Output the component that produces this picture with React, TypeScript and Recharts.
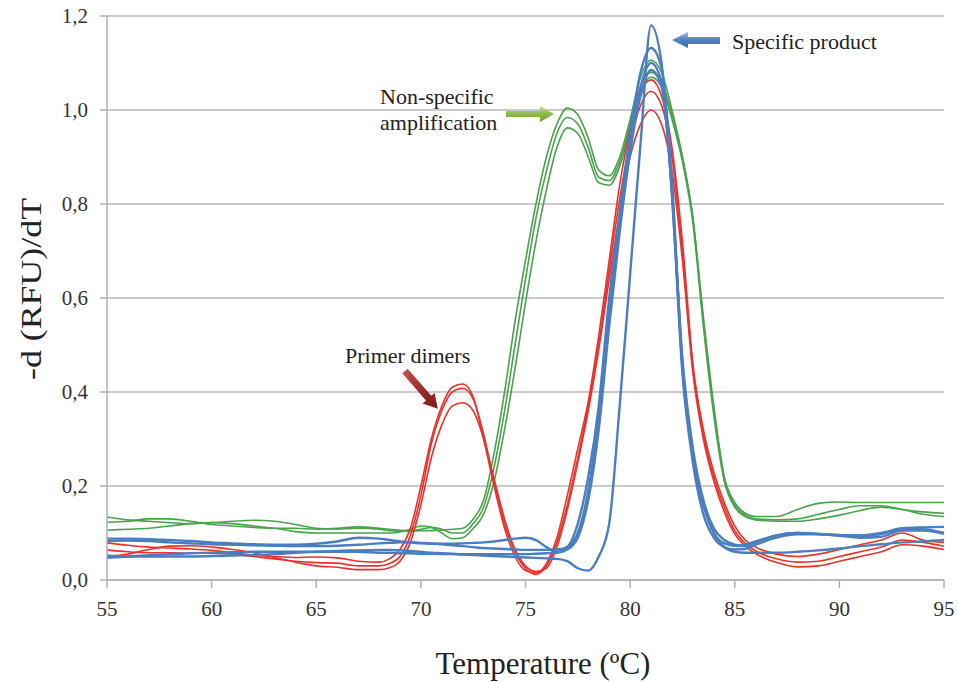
import { LineChart, Line, XAxis, YAxis, CartesianGrid, Label } from 'recharts';

// temperature grid (ºC)
const temps = [
  55, 56, 57, 58, 59, 60, 61, 62, 63, 64, 65, 66, 67, 68, 68.5, 69, 69.5, 70, 70.5, 71, 71.5, 72,
  72.5, 73, 73.5, 74, 74.5, 75, 75.5, 76, 76.5, 77, 77.5, 78, 78.5, 79, 79.5, 80, 80.5, 81, 81.5,
  82, 82.5, 83, 83.5, 84, 84.5, 85, 85.5, 86, 87, 88, 89, 90, 91, 92, 93, 94, 95,
];

// non-specific amplification (green)
const green1 = [
  0.134, 0.128, 0.125, 0.122, 0.12, 0.122, 0.125, 0.127, 0.125, 0.118, 0.11, 0.108, 0.11, 0.108,
  0.105, 0.104, 0.104, 0.105, 0.105, 0.106, 0.108, 0.11, 0.13, 0.17, 0.27, 0.4, 0.55, 0.68, 0.8,
  0.9, 0.97, 1.004, 0.99, 0.94, 0.872, 0.86, 0.9, 0.98, 1.07, 1.106, 1.08, 1.0, 0.9, 0.77, 0.56,
  0.37, 0.22, 0.165, 0.142, 0.135, 0.135, 0.15, 0.163, 0.166, 0.165, 0.165, 0.165, 0.165, 0.165,
];
const green2 = [
  0.123, 0.125, 0.13, 0.13, 0.125, 0.118, 0.115, 0.112, 0.11, 0.11, 0.108, 0.11, 0.113, 0.11,
  0.108, 0.106, 0.105, 0.108, 0.112, 0.108, 0.1, 0.1, 0.12, 0.155, 0.24, 0.36, 0.5, 0.64, 0.77,
  0.87, 0.95, 0.984, 0.97, 0.92, 0.857, 0.85, 0.89, 0.97, 1.05, 1.08, 1.06, 0.99, 0.9, 0.77, 0.55,
  0.36, 0.215, 0.16, 0.138, 0.13, 0.128, 0.13, 0.14, 0.15, 0.158, 0.158, 0.15, 0.145, 0.142,
];
const green3 = [
  0.106, 0.108, 0.11, 0.115, 0.12, 0.122, 0.12, 0.115, 0.11, 0.103, 0.1, 0.1, 0.1, 0.1, 0.1,
  0.102, 0.108, 0.115, 0.112, 0.1, 0.088, 0.09, 0.11, 0.14, 0.21, 0.32, 0.45, 0.59, 0.72, 0.83,
  0.92, 0.962, 0.95, 0.9, 0.845, 0.84, 0.88, 0.96, 1.04, 1.07, 1.05, 0.98, 0.89, 0.76, 0.54, 0.35,
  0.21, 0.155, 0.135, 0.128, 0.125, 0.125, 0.13, 0.138, 0.148, 0.155, 0.15, 0.14, 0.135,
];

// primer dimers + product (red)
const red1 = [
  0.079, 0.074, 0.07, 0.068, 0.066, 0.063, 0.058, 0.053, 0.05, 0.048, 0.049, 0.047, 0.04, 0.038,
  0.045, 0.065, 0.11, 0.2, 0.3, 0.37, 0.41, 0.417, 0.39, 0.3, 0.2, 0.11, 0.05, 0.02, 0.015, 0.035,
  0.09, 0.18, 0.28, 0.38, 0.52, 0.68, 0.84, 0.96, 1.04, 1.064, 1.03, 0.92, 0.72, 0.46, 0.32,
  0.23, 0.165, 0.115, 0.085, 0.07, 0.055, 0.05, 0.055, 0.065, 0.075, 0.085, 0.1, 0.085, 0.08,
];
const red2 = [
  0.064, 0.06, 0.058, 0.058, 0.057, 0.057, 0.055, 0.05, 0.045, 0.04, 0.037, 0.036, 0.03, 0.03,
  0.035, 0.05, 0.095, 0.18, 0.29, 0.36, 0.4, 0.408, 0.385, 0.31, 0.21, 0.12, 0.06, 0.025, 0.012,
  0.03, 0.08, 0.16, 0.26, 0.37, 0.5, 0.66, 0.81, 0.93, 1.01, 1.04, 1.01, 0.9, 0.7, 0.45, 0.31,
  0.22, 0.155, 0.105, 0.078, 0.062, 0.045, 0.038, 0.04, 0.05, 0.06, 0.07, 0.085, 0.08, 0.072,
];
const red3 = [
  0.05, 0.055, 0.065, 0.072, 0.073, 0.07, 0.065, 0.058, 0.048, 0.038, 0.03, 0.027, 0.022, 0.022,
  0.026, 0.04, 0.08, 0.16, 0.26, 0.33, 0.37, 0.377, 0.36, 0.3, 0.215, 0.13, 0.065, 0.03, 0.018,
  0.025, 0.07, 0.15, 0.25, 0.36, 0.49, 0.64, 0.78, 0.9, 0.97, 1.0, 0.97, 0.87, 0.68, 0.44, 0.3,
  0.21, 0.145, 0.098, 0.072, 0.056, 0.037, 0.028, 0.03, 0.04, 0.05, 0.06, 0.075, 0.072, 0.065,
];

// specific product (blue)
const blue1 = [
  0.047, 0.05, 0.053, 0.055, 0.057, 0.058, 0.059, 0.06, 0.06, 0.06, 0.06, 0.06, 0.06, 0.058,
  0.058, 0.057, 0.057, 0.056, 0.056, 0.055, 0.055, 0.054, 0.053, 0.052, 0.051, 0.05, 0.049, 0.048,
  0.047, 0.046, 0.045, 0.04, 0.025, 0.02, 0.05, 0.12, 0.37, 0.65, 0.93, 1.18, 1.1, 0.82, 0.47,
  0.28, 0.17, 0.11, 0.085, 0.075, 0.072, 0.08, 0.095, 0.1, 0.098, 0.095, 0.095, 0.1, 0.11, 0.112,
  0.113,
];
const blue2 = [
  0.088, 0.088, 0.087, 0.085, 0.083, 0.08, 0.078, 0.076, 0.075, 0.075, 0.077, 0.082, 0.09, 0.088,
  0.085, 0.082, 0.08, 0.078, 0.077, 0.077, 0.077, 0.078, 0.079, 0.08, 0.082, 0.085, 0.088, 0.09,
  0.085, 0.07, 0.06, 0.07, 0.12, 0.22, 0.37, 0.6, 0.78, 0.95, 1.08, 1.132, 1.09, 0.85, 0.45, 0.26,
  0.16, 0.1, 0.078, 0.073, 0.075, 0.082, 0.095, 0.1, 0.098, 0.096, 0.094, 0.098, 0.108, 0.108, 0.1,
];
const blue3 = [
  0.083, 0.084, 0.083, 0.08, 0.078, 0.076, 0.075, 0.074, 0.073, 0.072, 0.072, 0.073, 0.075, 0.078,
  0.079, 0.08, 0.08, 0.079, 0.078, 0.076, 0.074, 0.072, 0.07, 0.068, 0.067, 0.066, 0.065, 0.064,
  0.064, 0.064, 0.065, 0.07, 0.1, 0.19, 0.35, 0.57, 0.76, 0.93, 1.05, 1.1, 1.06, 0.82, 0.44, 0.25,
  0.14, 0.09, 0.07, 0.065, 0.066, 0.075, 0.09, 0.097, 0.097, 0.094, 0.09, 0.092, 0.105, 0.105,
  0.098,
];
const blue4 = [
  0.052, 0.05, 0.05, 0.05, 0.05, 0.051, 0.052, 0.053, 0.055, 0.058, 0.06, 0.062, 0.063, 0.064,
  0.064, 0.063, 0.062, 0.06, 0.058, 0.057, 0.056, 0.055, 0.055, 0.055, 0.055, 0.055, 0.055, 0.055,
  0.056, 0.057, 0.058, 0.065, 0.09, 0.17, 0.32, 0.54, 0.74, 0.91, 1.03, 1.085, 1.05, 0.83, 0.46,
  0.27, 0.16, 0.1, 0.07, 0.06, 0.058, 0.058, 0.058, 0.06, 0.063, 0.067, 0.072, 0.076, 0.08, 0.082,
  0.085,
];

const xTicks = [55, 60, 65, 70, 75, 80, 85, 90, 95];
const yTicks = [0, 0.2, 0.4, 0.6, 0.8, 1.0, 1.2];

const series = [
  { key: 'g1', values: green1, color: '#49a34b', width: 1.6 },
  { key: 'g2', values: green2, color: '#49a34b', width: 1.6 },
  { key: 'g3', values: green3, color: '#49a34b', width: 1.6 },
  { key: 'r1', values: red1, color: '#e8322c', width: 1.6 },
  { key: 'r2', values: red2, color: '#e8322c', width: 1.6 },
  { key: 'r3', values: red3, color: '#e8322c', width: 1.6 },
  { key: 'b1', values: blue1, color: '#4a7ebf', width: 2.4 },
  { key: 'b2', values: blue2, color: '#4a7ebf', width: 2.4 },
  { key: 'b3', values: blue3, color: '#4a7ebf', width: 2.4 },
  { key: 'b4', values: blue4, color: '#4a7ebf', width: 2.4 },
];

const data = temps.map((t, i) => {
  const row: Record<string, number> = { t };
  series.forEach((s) => {
    row[s.key] = s.values[i];
  });
  return row;
});

const serif = '"Liberation Serif", "Times New Roman", serif';
const serifStyle = { fontFamily: serif };
const fmt = (v: number) => v.toFixed(1).replace('.', ',');

export default function App() {
  return (
    <div style={{ position: 'absolute', left: 0, top: 0, width: 959, height: 682, background: '#fff', fontFamily: serif }}>
      <LineChart width={959} height={682} data={data} margin={{ top: 16, right: 15, bottom: 0, left: 0 }} style={serifStyle}>
        <CartesianGrid vertical={false} stroke="#b8b8b8" strokeWidth={1.5} />
        <XAxis
          dataKey="t"
          type="number"
          domain={[55, 95]}
          ticks={xTicks}
          height={102}
          tickSize={8}
          tickMargin={13}
          stroke="#b0b0b0"
          strokeWidth={1.5}
          tick={{ fill: '#333', fontSize: 21, fontFamily: serif, style: serifStyle }}
        >
          <Label
            content={() => (
              <text x={543} y={674} textAnchor="middle" style={serifStyle} fontSize={31} fill="#222">
                Temperature (ºC)
              </text>
            )}
          />
        </XAxis>
        <YAxis
          type="number"
          domain={[0, 1.2]}
          ticks={yTicks}
          width={107}
          tickSize={7}
          tickMargin={12}
          stroke="#b0b0b0"
          strokeWidth={1.5}
          tickFormatter={fmt}
          tick={{ fill: '#333', fontSize: 21, fontFamily: serif, style: serifStyle }}
        >
          <Label
            content={() => (
              <text
                x={0}
                y={0}
                transform="translate(41, 289) rotate(-90)"
                textAnchor="middle"
                style={serifStyle}
                fontSize={29}
                fill="#222"
                textLength={182}
                lengthAdjust="spacingAndGlyphs"
              >
                -d (RFU)/dT
              </text>
            )}
          />
        </YAxis>
        {series.map((s) => (
          <Line
            key={s.key}
            dataKey={s.key}
            type="monotone"
            stroke={s.color}
            strokeWidth={s.width}
            dot={false}
            activeDot={false}
            isAnimationActive={false}
          />
        ))}
      </LineChart>
      <svg width={959} height={682} style={{ position: 'absolute', left: 0, top: 0, pointerEvents: 'none' }}>
        <defs>
          <linearGradient id="blueArrow" x1="0" y1="0" x2="0" y2="1">
            <stop offset="0" stopColor="#9bbbe3" />
            <stop offset="0.5" stopColor="#4f81bd" />
            <stop offset="1" stopColor="#3a6aa5" />
          </linearGradient>
          <linearGradient id="greenArrow" x1="0" y1="0" x2="0" y2="1">
            <stop offset="0" stopColor="#c5de8e" />
            <stop offset="0.5" stopColor="#8cba4a" />
            <stop offset="1" stopColor="#6f9a35" />
          </linearGradient>
          <linearGradient id="redArrow" x1="0" y1="0" x2="1" y2="0">
            <stop offset="0" stopColor="#c0504d" />
            <stop offset="0.5" stopColor="#9e2a27" />
            <stop offset="1" stopColor="#7d1d1b" />
          </linearGradient>
        </defs>
        <polygon points="672,40 688,32 688,37 720,37 720,44 688,44 688,48" fill="url(#blueArrow)" />
        <polygon points="554,114 540,106 540,111 506,111 506,117 540,117 540,122" fill="url(#greenArrow)" />
        <g transform="translate(405,371) rotate(49)">
          <polygon points="0,-3.5 36,-3.5 36,-8 50,0 36,8 36,3.5 0,3.5" fill="url(#redArrow)" />
        </g>
        <g style={serifStyle} fontSize={22} fill="#222">
          <text x={732} y={49} style={serifStyle}>Specific product</text>
          <text x={380} y={104} style={serifStyle}>Non-specific</text>
          <text x={380} y={130} style={serifStyle}>amplification</text>
          <text x={345} y={363} style={serifStyle}>Primer dimers</text>
        </g>
      </svg>
    </div>
  );
}
